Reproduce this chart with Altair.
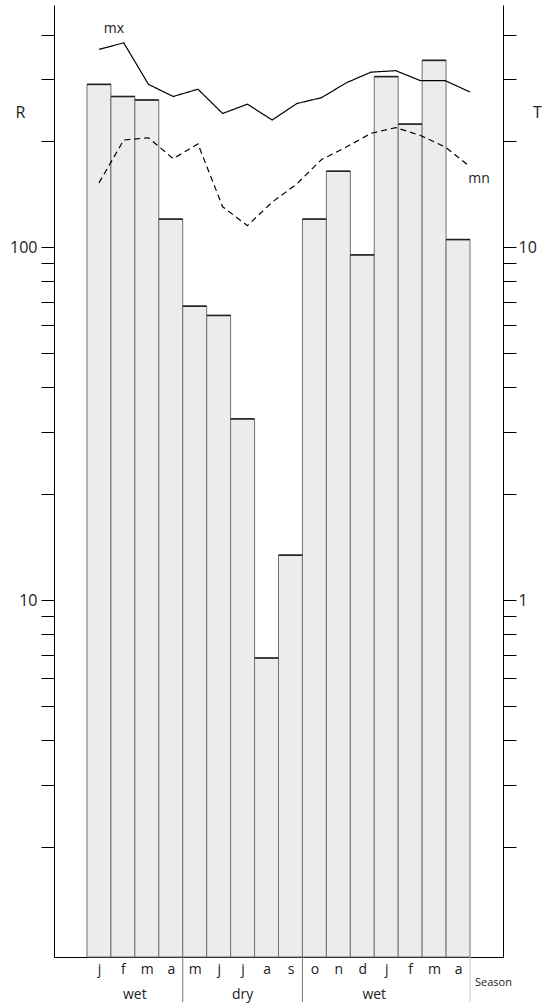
import json
import altair as alt
import pandas as pd

# ---------------- data ----------------
months = ["j", "f", "m", "a", "m", "j", "j", "a", "s", "o", "n", "d", "j", "f", "m", "a"]
rain = [289, 267, 261, 120, 68, 64, 32.6, 6.85, 13.4, 120, 164, 95, 304, 223, 338, 105]
tmax = [36.3, 37.9, 28.9, 26.7, 28.0, 23.9, 25.4, 22.9, 25.5, 26.5, 29.2, 31.3, 31.6, 29.6, 29.6, 27.5]
tmin = [15.2, 20.1, 20.4, 17.8, 19.6, 13.0, 11.5, 13.4, 15.1, 17.7, 19.2, 21.0, 21.8, 20.7, 19.2, 16.9]
season_names = ["wet", "dry", "wet"]
season_start = [0, 4, 9]
season_end = [4, 9, 15]
r_label_values = [10, 100]
t_label_values = [1, 10]

n = len(months)
bars_df = pd.DataFrame({"i": list(range(n)), "month": months, "R": rain})
temp_df = pd.DataFrame({
    "i": list(range(n)) * 2,
    "T": tmax + tmin,
    "series": ["mx"] * n + ["mn"] * n,
})
season_df = pd.DataFrame({"season": season_names, "start": season_start, "end": season_end})
end_df = pd.DataFrame({"pos": [n], "label": ["Season"]})

# ---------------- layout ----------------
FONT = "Open Sans"
W, H = 449, 952
R_DOMAIN = [0.974, 485]
T_DOMAIN = [0.0974, 48.5]
X_DOMAIN = [-1.378, n + 1.378]
LX_DOMAIN = [-1.819, 16.334]
TXT = "#222222"

r_ticks = [m * 10 ** e for e in [0, 1, 2] for m in range(1, 10) if 1 < m * 10 ** e <= 400]
t_ticks = [v / 10 for v in r_ticks]

xscale = alt.Scale(domain=X_DOMAIN, nice=False, zero=False)
x_axis = alt.Axis(
    values=[k + 0.5 for k in range(n)],
    labelExpr=f"{json.dumps(months)}[floor(datum.value)]",
    ticks=False, grid=False, title=None, labelOverlap=False, labelFlush=False,
    labelFontSize=14, labelPadding=5, labelBaseline="top", domainColor="black",
)
rscale = alt.Scale(type="log", domain=R_DOMAIN, nice=False)
r_axis = alt.Axis(
    values=r_ticks,
    labelExpr=f"indexof({json.dumps(r_label_values)}, datum.value) >= 0 ? format(datum.value, 'd') : ''",
    tickSize=13, labelPadding=4, labelFontSize=16, grid=False, labelOverlap=False,
    title="R", titleAngle=0, titleX=-34, titleY=107.5, titleAlign="center",
    titleBaseline="middle", titleFontSize=16, titleFontWeight="normal",
)
tscale = alt.Scale(type="log", domain=T_DOMAIN, nice=False)
t_axis = alt.Axis(
    orient="right", values=t_ticks,
    labelExpr=f"indexof({json.dumps(t_label_values)}, datum.value) >= 0 ? format(datum.value, 'd') : ''",
    tickSize=13, labelPadding=2, labelFontSize=16, grid=False, labelOverlap=False,
    title="T", titleAngle=0, titleX=34, titleY=107.5, titleAlign="center",
    titleBaseline="middle", titleFontSize=16, titleFontWeight="normal",
)

bars = alt.Chart(bars_df).transform_calculate(i1="datum.i + 1").mark_bar(
    fill="#ececec", stroke="#707070", strokeWidth=1
).encode(
    x=alt.X("i:Q", scale=xscale, axis=x_axis),
    x2="i1:Q",
    y=alt.Y("R:Q", scale=rscale, axis=r_axis),
    y2=alt.Y2Datum(R_DOMAIN[0]),
)
tops = alt.Chart(bars_df).transform_calculate(i1="datum.i + 1").mark_rule(
    color="#222222", strokeWidth=1.6
).encode(x=alt.X("i:Q", axis=x_axis), x2="i1:Q", y=alt.Y("R:Q", axis=r_axis))

seps = alt.Chart(season_df).transform_filter("datum.start > 0").mark_rule(
    color="#777777", strokeWidth=1
).encode(x=alt.X("start:Q", axis=x_axis), y=alt.value(H), y2=alt.value(H + 45))
end_sep = alt.Chart(end_df).mark_rule(color="#cccccc", strokeWidth=1).encode(
    x=alt.X("pos:Q", axis=x_axis), y=alt.value(H), y2=alt.value(H + 45)
)
season_text = alt.Chart(season_df).transform_calculate(
    mid="(datum.start + datum.end) / 2"
).mark_text(font=FONT, fontSize=14, color=TXT, baseline="middle").encode(
    x=alt.X("mid:Q", axis=x_axis), y=alt.value(H + 38), text="season:N"
)
end_text = alt.Chart(end_df).mark_text(
    font=FONT, fontSize=11, color=TXT, align="left", baseline="middle", dx=5
).encode(x=alt.X("pos:Q", axis=x_axis), y=alt.value(H + 26), text="label:N")

left = alt.layer(bars, tops, seps, end_sep, season_text, end_text)

lx = alt.X("i:Q", scale=alt.Scale(domain=LX_DOMAIN, nice=False, zero=False), axis=None)
lines = alt.Chart(temp_df).mark_line(color="black", strokeWidth=1.2).encode(
    x=lx,
    y=alt.Y("T:Q", scale=tscale, axis=t_axis),
    detail="series:N",
    strokeDash=alt.StrokeDash(
        "series:N", scale=alt.Scale(domain=["mx", "mn"], range=[[1, 0], [6, 4]]), legend=None
    ),
)
mx_label = alt.Chart(temp_df).transform_filter(
    "datum.series == 'mx' && datum.i == 0"
).mark_text(font=FONT, fontSize=14, color=TXT, dx=15, dy=-20).encode(
    x=alt.X("i:Q", axis=None), y=alt.Y("T:Q", axis=t_axis), text="series:N"
)
mn_label = alt.Chart(temp_df).transform_filter(
    f"datum.series == 'mn' && datum.i == {n - 1}"
).mark_text(font=FONT, fontSize=14, color=TXT, dx=9, dy=12).encode(
    x=alt.X("i:Q", axis=None), y=alt.Y("T:Q", axis=t_axis), text="series:N"
)
right = alt.layer(lines, mx_label, mn_label)

chart = alt.layer(left, right).resolve_scale(
    x="independent", y="independent"
).properties(
    width=W, height=H,
    padding={"left": 54, "top": 5, "right": 39, "bottom": 51},
    autosize=alt.AutoSizeParams(type="none"),
).configure_view(stroke=None).configure_axis(
    labelFont=FONT, titleFont=FONT, labelColor=TXT, titleColor=TXT,
    tickColor="black", domainColor="black", tickWidth=1, domainWidth=1,
)

chart.save("out.html", embed_options={"renderer": "svg", "actions": False})
